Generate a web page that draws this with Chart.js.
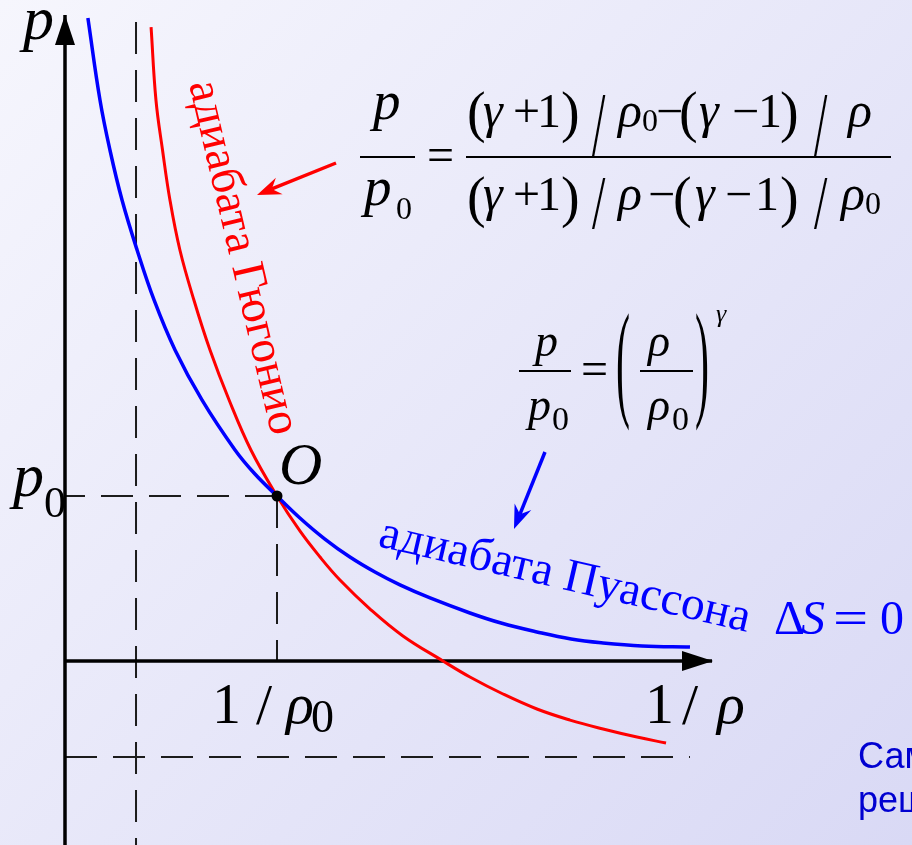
<!DOCTYPE html>
<html>
<head>
<meta charset="utf-8">
<script src="https://cdn.jsdelivr.net/npm/chart.js@4.4.1/dist/chart.umd.min.js"></script>
<style>
  html, body { margin: 0; padding: 0; background: #ececfa; }
  #wrap { width: 912px; height: 845px; position: relative; }
</style>
</head>
<body>
<div id="wrap"><canvas id="chart"></canvas></div>
<script>
// specific volume 1/rho in units of 1/rho0, pressure in units of p0
const poissonV = [0.108, 0.165, 0.212, 0.269, 0.340, 0.420, 0.519, 0.646, 0.802, 0.896, 1.000,
  1.108, 1.226, 1.344, 1.462, 1.580, 1.722, 1.910, 2.057, 2.226, 2.387, 2.538, 2.722, 2.948];
const poissonP = [3.897, 3.400, 3.097, 2.794, 2.491, 2.188, 1.885, 1.582, 1.279, 1.133, 1.000,
  0.867, 0.739, 0.630, 0.539, 0.461, 0.382, 0.291, 0.230, 0.176, 0.133, 0.109, 0.091, 0.085];

const hugoniotV = [0.406, 0.429, 0.460, 0.495, 0.542, 0.608, 0.684, 0.774, 0.877, 1.000,
  1.108, 1.203, 1.297, 1.439, 1.594, 1.783, 1.910, 2.066, 2.226, 2.382, 2.538, 2.698, 2.835];
const hugoniotP = [3.842, 3.400, 3.097, 2.794, 2.491, 2.188, 1.885, 1.582, 1.279, 1.000,
  0.788, 0.630, 0.491, 0.315, 0.152, 0.000, -0.097, -0.200, -0.291, -0.358, -0.412, -0.461, -0.497];

// initial state O = (1/rho0, p0)
const stateO = [1, 1];
// asymptotes of the Hugoniot curve
const asymptoteV = 0.335;
const asymptoteP = -0.582;
const asymptoteTop = 3.873;
const asymptoteRight = 2.948;

// axis extents
const xRange = [-0.3066, 3.9953];
const yRange = [-1.1152, 4.0061];
const xAxisEnd = 3.052;
const yAxisEnd = 3.915;

const serif = '"Liberation Serif", "Times New Roman", serif';
const sans = '"Liberation Sans", Arial, sans-serif';

const zip = (xs, ys) => xs.map((x, i) => ({ x, y: ys[i] }));
const seg = (x0, y0, x1, y1) => [{ x: x0, y: y0 }, { x: x1, y: y1 }];

const dashed = (data) => ({
  data, showLine: true, borderColor: '#1c1c1c', borderWidth: 2, borderDash: [32, 16],
  pointRadius: 0, order: 5
});

const datasets = [
  { data: [{ x: stateO[0], y: stateO[1] }], pointRadius: 5.5, pointBackgroundColor: '#000',
    pointBorderWidth: 0, showLine: false, order: 0 },
  { data: zip(poissonV, poissonP), showLine: true, borderColor: '#0000ff', borderWidth: 3.5,
    tension: 0.4, pointRadius: 0, order: 1 },
  { data: zip(hugoniotV, hugoniotP), showLine: true, borderColor: '#ff0000', borderWidth: 3,
    tension: 0.4, pointRadius: 0, order: 2 },
  { data: seg(0, 0, xAxisEnd, 0), showLine: true, borderColor: '#000', borderWidth: 3.5, pointRadius: 0, order: 4 },
  { data: seg(0, yRange[0], 0, yAxisEnd), showLine: true, borderColor: '#000', borderWidth: 3.5, pointRadius: 0, order: 4 },
  dashed(seg(asymptoteV, asymptoteTop, asymptoteV, yRange[0])),
  dashed(seg(0, asymptoteP, asymptoteRight, asymptoteP)),
  dashed(seg(stateO[0], stateO[1], 0, stateO[1])),
  dashed(seg(stateO[0], stateO[1], stateO[0], 0))
];

const backdrop = {
  id: 'backdrop',
  beforeDraw(chart) {
    const { ctx, width, height } = chart;
    const g = ctx.createLinearGradient(0, 0, width, height);
    g.addColorStop(0, '#f6f6fd');
    g.addColorStop(1, '#d9d9f5');
    ctx.save();
    ctx.fillStyle = g;
    ctx.fillRect(0, 0, width, height);
    ctx.restore();
  }
};

function put(ctx, s, x, y, font, color, sx = 1, sy = 1) {
  ctx.save();
  ctx.translate(x, y);
  ctx.scale(sx, sy);
  ctx.font = font;
  ctx.fillStyle = color;
  ctx.fillText(s, 0, 0);
  ctx.restore();
}

function rule(ctx, x0, x1, y, color) {
  ctx.save();
  ctx.strokeStyle = color;
  ctx.lineWidth = 2;
  ctx.beginPath();
  ctx.moveTo(x0, y);
  ctx.lineTo(x1, y);
  ctx.stroke();
  ctx.restore();
}

// text laid along a straight line, sized to span it
function slanted(ctx, s, family, color, x0, y0, x1, y1) {
  const len = Math.hypot(x1 - x0, y1 - y0);
  ctx.save();
  ctx.font = `100px ${family}`;
  const size = 100 * len / ctx.measureText(s).width;
  ctx.translate(x0, y0);
  ctx.rotate(Math.atan2(y1 - y0, x1 - x0));
  ctx.font = `${size}px ${family}`;
  ctx.fillStyle = color;
  ctx.fillText(s, 0, 0);
  ctx.restore();
}

function arrow(ctx, x0, y0, x1, y1, color) {
  const a = Math.atan2(y1 - y0, x1 - x0);
  const L = 24, W = 9, back = 16;
  ctx.save();
  ctx.strokeStyle = color;
  ctx.fillStyle = color;
  ctx.lineWidth = 3.5;
  ctx.beginPath();
  ctx.moveTo(x0, y0);
  ctx.lineTo(x1 - back * Math.cos(a), y1 - back * Math.sin(a));
  ctx.stroke();
  ctx.translate(x1, y1);
  ctx.rotate(a);
  ctx.beginPath();
  ctx.moveTo(0, 0);
  ctx.lineTo(-L, -W);
  ctx.lineTo(-back, 0);
  ctx.lineTo(-L, W);
  ctx.closePath();
  ctx.fill();
  ctx.restore();
}

const F = {
  R: `48px ${serif}`,
  I: `italic 50px ${serif}`,
  IL: `italic 55px ${serif}`,
  S: `32px ${serif}`,
  P: `56px ${serif}`,
  R2: `48px ${serif}`,
  B2: `42px ${serif}`,
  I2: `italic 46px ${serif}`,
  S2: `34px ${serif}`,
  sup: `italic 26px ${serif}`
};

// Hugoniot relation, glyph by glyph: [text, x, baseline, font, scaleY]
const hugoniotFormula = [
  ['p', 373, 119, 'IL'], ['p', 364, 205, 'IL'], ['0', 396, 219, 'S'], ['=', 427, 171, 'R'],
  ['(', 467, 131, 'P'], ['γ', 483, 127, 'I'], ['+', 513, 127, 'R'], ['1', 537, 127, 'R'], [')', 561, 131, 'P'],
  ['/', 592, 155, 'R', 1.9], ['ρ', 618, 127, 'I'], ['0', 642, 131, 'S'], ['−', 656, 127, 'R'],
  ['(', 679, 131, 'P'], ['γ', 699, 127, 'I'], ['−', 732, 127, 'R'], ['1', 758, 127, 'R'], [')', 780, 131, 'P'],
  ['/', 814, 155, 'R', 1.9], ['ρ', 848, 127, 'I'],
  ['(', 467, 216, 'P'], ['γ', 483, 210, 'I'], ['+', 513, 210, 'R'], ['1', 537, 210, 'R'], [')', 561, 216, 'P'],
  ['/', 592, 228, 'R', 1.6], ['ρ', 618, 210, 'I'], ['−', 648, 210, 'R'],
  ['(', 673, 216, 'P'], ['γ', 695, 210, 'I'], ['−', 725, 210, 'R'], ['1', 755, 210, 'R'], [')', 780, 216, 'P'],
  ['/', 814, 228, 'R', 1.6], ['ρ', 841, 210, 'I'], ['0', 865, 214, 'S']
];

// Poisson adiabat
const poissonFormula = [
  ['p', 535, 356, 'I2'], ['p', 528, 420, 'I2'], ['0', 552, 430, 'S2'], ['=', 581, 385, 'R2'],
  ['(', 616, 403, 'B2', 3.1], ['ρ', 648, 356, 'I2'], ['ρ', 648, 420, 'I2'], ['0', 672, 430, 'S2'],
  [')', 695, 403, 'B2', 3.1], ['γ', 716, 322, 'sup']
];

const annotations = {
  id: 'annotations',
  afterDatasetsDraw(chart) {
    const { ctx } = chart;
    const xs = chart.scales.x, ys = chart.scales.y;
    const x0 = xs.getPixelForValue(0), y0 = ys.getPixelForValue(0);
    const xe = xs.getPixelForValue(xAxisEnd), ye = ys.getPixelForValue(yAxisEnd);
    const ink = '#000';

    // axis arrowheads
    ctx.save();
    ctx.fillStyle = ink;
    ctx.beginPath();
    ctx.moveTo(xe + 1, y0); ctx.lineTo(xe - 30, y0 - 10); ctx.lineTo(xe - 30, y0 + 10); ctx.closePath();
    ctx.fill();
    ctx.beginPath();
    ctx.moveTo(x0, ye); ctx.lineTo(x0 - 10, ye + 30); ctx.lineTo(x0 + 10, ye + 30); ctx.closePath();
    ctx.fill();
    ctx.restore();

    // axis titles and marked values
    put(ctx, 'p', 23, 39, `italic 62px ${serif}`, ink);
    const py0 = ys.getPixelForValue(stateO[1]);
    put(ctx, 'p', 13, py0, `italic 62px ${serif}`, ink);
    put(ctx, '0', 44, py0 + 21, `44px ${serif}`, ink);

    const px0 = xs.getPixelForValue(stateO[0]);
    put(ctx, '1', px0 - 65, y0 + 62, `58px ${serif}`, ink);
    put(ctx, '/', px0 - 21, y0 + 63, `58px ${serif}`, ink);
    put(ctx, 'ρ', px0 + 9, y0 + 62, `italic 58px ${serif}`, ink);
    put(ctx, '0', px0 + 34, y0 + 71, `46px ${serif}`, ink);

    put(ctx, '1', 645, y0 + 62, `58px ${serif}`, ink);
    put(ctx, '/', 682, y0 + 63, `58px ${serif}`, ink);
    put(ctx, 'ρ', 717, y0 + 62, `italic 58px ${serif}`, ink);

    put(ctx, 'O', px0 + 2, py0 - 12, `italic 60px ${serif}`, ink);

    // formulas
    hugoniotFormula.forEach(([s, x, y, f, sy]) => put(ctx, s, x, y, F[f], ink, 1, sy || 1));
    rule(ctx, 360, 415, 157, ink);
    rule(ctx, 466, 891, 157, ink);
    poissonFormula.forEach(([s, x, y, f, sy]) => put(ctx, s, x, y, F[f], ink, 1, sy || 1));
    rule(ctx, 519, 571, 371, ink);
    rule(ctx, 640, 693, 371, ink);

    // curve captions
    slanted(ctx, 'адиабата Гюгонио', serif, '#ff0000', 189, 84, 272, 437);
    arrow(ctx, 336, 163, 257, 195, '#ff0000');
    slanted(ctx, 'адиабата Пуассона', serif, '#0000ff', 377, 546, 747, 632);
    arrow(ctx, 545, 452, 514, 529, '#0000ff');
    put(ctx, 'Δ', 774, 634, `48px ${serif}`, '#0000ff');
    put(ctx, 'S', 801, 634, `italic 48px ${serif}`, '#0000ff');
    put(ctx, '=', 833, 634, `48px ${serif}`, '#0000ff', 1.3, 1);
    put(ctx, '0', 880, 634, `48px ${serif}`, '#0000ff');

    put(ctx, 'Самостоятельно', 858, 768, `36px ${sans}`, '#0000d0');
    put(ctx, 'решить', 858, 812, `36px ${sans}`, '#0000d0');
  }
};

const chart = new Chart(document.getElementById('chart').getContext('2d'), {
  type: 'scatter',
  data: { datasets },
  options: {
    responsive: true,
    maintainAspectRatio: false,
    animation: false,
    events: [],
    layout: { padding: 0, autoPadding: false },
    plugins: { legend: { display: false }, tooltip: { enabled: false } },
    scales: {
      x: { type: 'linear', min: xRange[0], max: xRange[1], display: false },
      y: { type: 'linear', min: yRange[0], max: yRange[1], display: false }
    }
  },
  plugins: [backdrop, annotations]
});
</script>
</body>
</html>
